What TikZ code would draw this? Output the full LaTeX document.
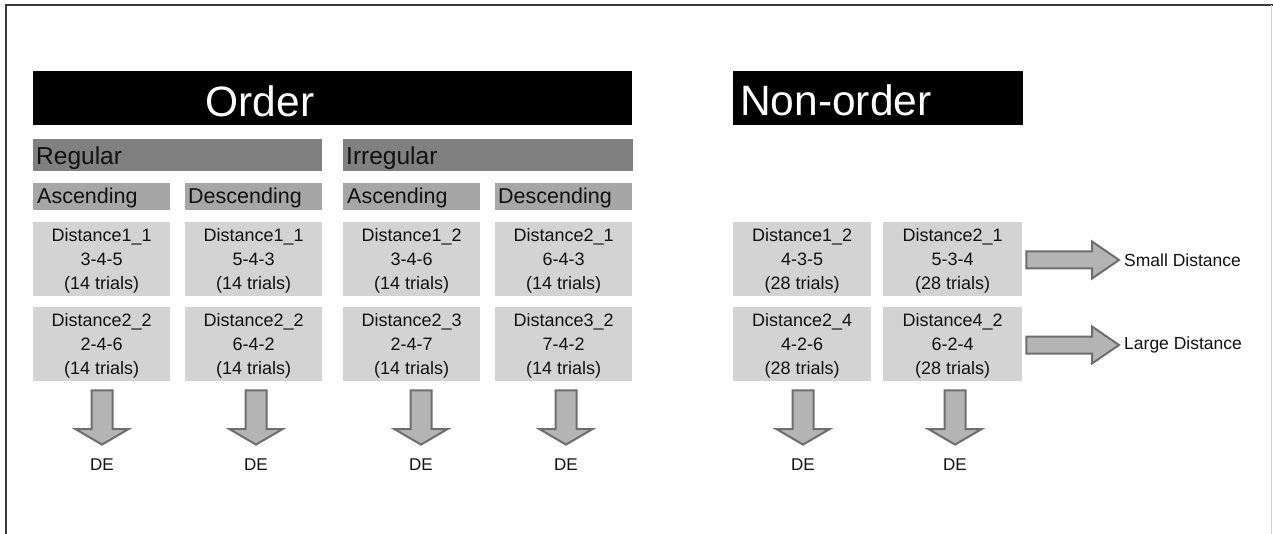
\documentclass[tikz,border=0pt]{standalone}
\usepackage{fontspec}
\setmainfont{Liberation Sans}
\usetikzlibrary{calc}
\definecolor{barA}{HTML}{808080}
\definecolor{barB}{HTML}{A6A6A6}
\definecolor{boxC}{HTML}{D3D3D3}
\definecolor{arrFill}{HTML}{B4B4B4}
\definecolor{arrLine}{HTML}{6E6E6E}
\definecolor{txt}{HTML}{111111}
\definecolor{frameC}{HTML}{3A3A3A}
\newcommand\downblock[2]{%
  \draw[blockarr] let \p1=(#1.south), \p2=(#2.north) in
   (\x2-10.5pt,\y1-9pt) -- (\x2+10.5pt,\y1-9pt) -- (\x2+10.5pt,\y2+29pt) --
   (\x2+26.5pt,\y2+29pt) -- (\x2,\y2+13.5pt) -- (\x2-26.5pt,\y2+29pt) --
   (\x2-10.5pt,\y2+29pt) -- cycle;}
\newcommand\rightblock[2]{%
  \draw[blockarr] let \p1=(#1.east), \p2=(#2.west) in
   (\x1+4pt,\y2+8.5pt) -- (\x2-32pt,\y2+8.5pt) -- (\x2-32pt,\y2+18.5pt) --
   (\x2-5pt,\y2) -- (\x2-32pt,\y2-18.5pt) -- (\x2-32pt,\y2-8.5pt) --
   (\x1+4pt,\y2-8.5pt) -- cycle;}
\newcommand\fl{\rule{0pt}{17pt}}
\begin{document}
\begin{tikzpicture}[x=1pt,y=-1pt,
  bigbar/.style={fill=black, minimum width=#1, minimum height=54, inner sep=0, anchor=north west},
  titletext/.style={text=white, font=\fontsize{42.5}{50}\selectfont, inner sep=0},
  groupbar/.style={fill=barA, minimum width=289, minimum height=32, inner sep=0, anchor=north west},
  grouptext/.style={text=txt, font=\fontsize{24.5}{28}\selectfont, inner sep=0, anchor=base west},
  dirbar/.style={fill=barB, minimum width=137, minimum height=27, inner sep=0, anchor=north west},
  dirtext/.style={text=txt, font=\fontsize{21.5}{26}\selectfont, inner sep=0, anchor=base west},
  distbox/.style={fill=boxC, minimum width=#1, minimum height=74, inner sep=0, anchor=north west,
    align=center, text=txt, font=\fontsize{18}{24}\selectfont},
  distbox/.default=137,
  detext/.style={text=txt, font=\fontsize{17}{20}\selectfont, inner sep=0, anchor=base},
  sidetext/.style={text=txt, font=\fontsize{17.5}{20}\selectfont, inner sep=0, anchor=west},
  blockarr/.style={fill=arrFill, draw=arrLine, line width=2pt, line join=miter},
  frameline/.style={draw=frameC, line width=1.5pt}]
\useasboundingbox (0,0) rectangle (1273,534);
\fill[white] (0,0) rectangle (1273,534);
\draw[frameline] (6,534) -- (6,5) -- (1273,5);
\draw[gray!35, line width=1pt] (1271,5) -- (1271,534);

% title bars
\node[bigbar=599] (orderbar) at (33,71) {};
\node[titletext, anchor=base] (ordertxt) at (260,117) {Order};
\node[bigbar=290] (nonbar) at (733,71) {};
\node[titletext, anchor=base west] (nontxt) at (740,116) {Non-order};

% group bars
\node[groupbar] (regbar) at (33,139) {};
\node[grouptext] (regtxt) at (36,165) {Regular};
\node[groupbar, minimum width=290] (irrbar) at (343,139) {};
\node[grouptext] (irrtxt) at (346,165) {Irregular};

% direction bars
\node[dirbar] (ra) at (33,183) {};
\node[dirtext] (ratxt) at (37,204) {Ascending};
\node[dirbar] (rd) at (185,183) {};
\node[dirtext] (rdtxt) at (188,204) {Descending};
\node[dirbar] (ia) at (343,183) {};
\node[dirtext] (iatxt) at (347,204) {Ascending};
\node[dirbar] (id) at (495,183) {};
\node[dirtext] (idtxt) at (498,204) {Descending};

% distance boxes row 1
\node[distbox] (a1) at (33,222) {\fl Distance1\_1\\3-4-5\\(14 trials)};
\node[distbox] (a2) at (185,222) {\fl Distance1\_1\\5-4-3\\(14 trials)};
\node[distbox] (a3) at (343,222) {\fl Distance1\_2\\3-4-6\\(14 trials)};
\node[distbox] (a4) at (495,222) {\fl Distance2\_1\\6-4-3\\(14 trials)};
\node[distbox=138] (a5) at (733,222) {\fl Distance1\_2\\4-3-5\\(28 trials)};
\node[distbox=139] (a6) at (883,222) {\fl Distance2\_1\\5-3-4\\(28 trials)};
% row 2
\node[distbox] (b1) at (33,307) {\fl Distance2\_2\\2-4-6\\(14 trials)};
\node[distbox] (b2) at (185,307) {\fl Distance2\_2\\6-4-2\\(14 trials)};
\node[distbox] (b3) at (343,307) {\fl Distance2\_3\\2-4-7\\(14 trials)};
\node[distbox] (b4) at (495,307) {\fl Distance3\_2\\7-4-2\\(14 trials)};
\node[distbox=138] (b5) at (733,307) {\fl Distance2\_4\\4-2-6\\(28 trials)};
\node[distbox=139] (b6) at (883,307) {\fl Distance4\_2\\6-2-4\\(28 trials)};

% DE labels
\node[detext] (de1) at (102,470) {DE};
\node[detext] (de2) at (256,470) {DE};
\node[detext] (de3) at (421,470) {DE};
\node[detext] (de4) at (566,470) {DE};
\node[detext] (de5) at (803,470) {DE};
\node[detext] (de6) at (955,470) {DE};

% side labels
\node[sidetext] (sd) at (1124,260) {Small Distance};
\node[sidetext] (ld) at (1124,345) {Large Distance};

% block arrows
\downblock{b1}{de1}
\downblock{b2}{de2}
\downblock{b3}{de3}
\downblock{b4}{de4}
\downblock{b5}{de5}
\downblock{b6}{de6}
\rightblock{a6}{sd}
\rightblock{b6}{ld}
\end{tikzpicture}
\end{document}
